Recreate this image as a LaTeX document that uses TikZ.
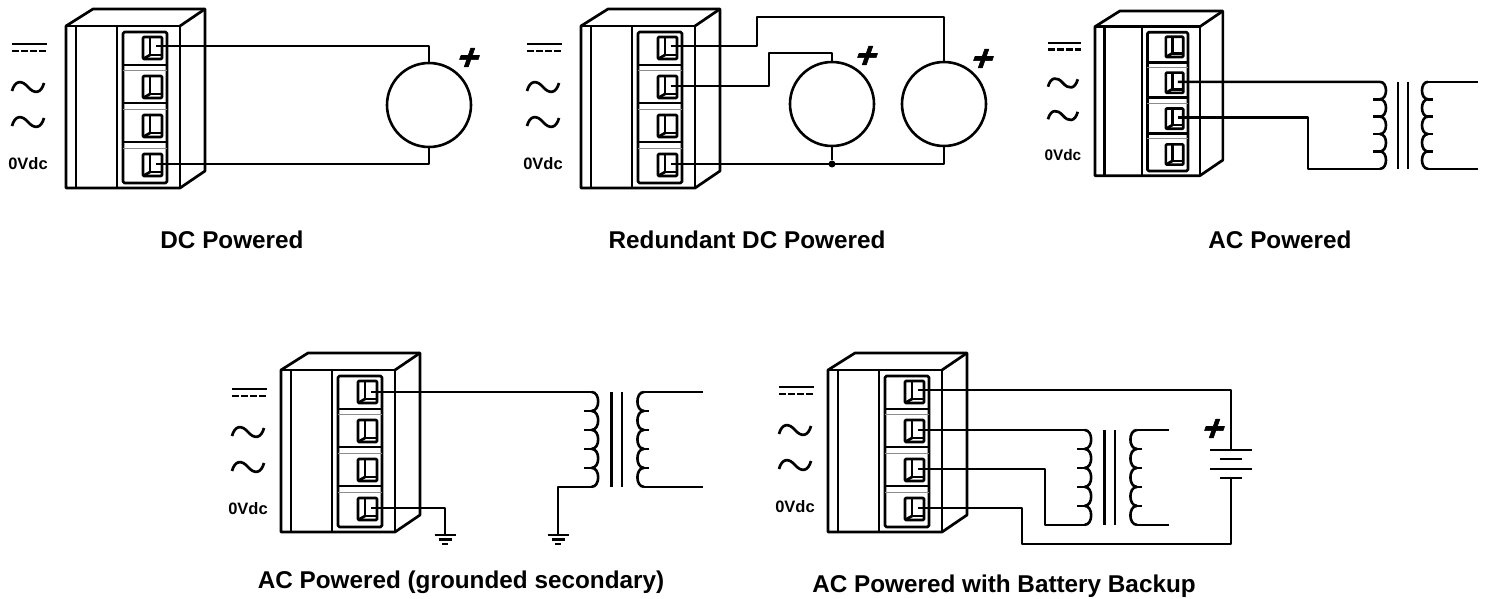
\documentclass[tikz,border=0pt]{standalone}
\usepackage{fontspec}
\setmainfont{Liberation Sans}
\newfontface\plusface[FakeBold=1.6]{Liberation Sans Bold}
\usepackage{xcolor}

\tikzset{
pics/termblock/.style={code={
  \draw[body] (0,17) -- (27,0) -- (139,0) -- (139,162) -- (114,179) -- (0,179) -- cycle;
  \draw[body] (0,17) -- (114,17) -- (114,179);
  \draw[body] (114,17) -- (139,0);
  \draw[body] (10,17) -- (10,179);
  \draw[body] (51,17) -- (51,179);
  \draw[body,rounded corners=1.5] (57,23) rectangle (101,174);
  \foreach \yy in {56,94,133} \draw[body] (57,\yy) -- (101,\yy);
  \foreach \yy in {61,100,139} \draw[gap] (57,\yy) -- (101,\yy);
  \foreach \r/\yy/\wy in {1/28/37,2/67/77,3/106/116,4/145/155} {
    \draw[body,rounded corners=1] (77,\yy) rectangle +(19,22);
    \draw[body] (84,\yy) -- +(0,18) -- +(12,18);
    \draw[body] (77,\yy+22) -- (84,\yy+18);
    \coordinate (-t\r) at (90,\wy);
  }
}},
pics/supplysyms/.style={code={
  \draw[sym] (0,0) -- (35,0);
  \draw[sym,dash pattern=on 7pt off 2pt] (0,7) -- (35,7);
  \foreach \yy in {43,78}
    \draw[sym] (0,\yy+4) .. controls (3,\yy-7) and (10,\yy-7) .. (16,\yy) .. controls (22,\yy+7) and (29,\yy+7) .. (32,\yy-4);
  \node[zerovolt,transform shape] (-vdc) at (16,120) {0Vdc};
}},
pics/transformer/.style={code={
  \coordinate (-pt) at (7,0);
  \coordinate (-pb) at (7,87);
  \foreach \k in {0,1,2,3,4} {
    \draw[wire] (7,\k*17.4) .. controls (15,\k*17.4) and (15,\k*17.4+17.4) .. (7,\k*17.4+17.4);
    \draw[wire] (55,\k*17.4) .. controls (47,\k*17.4) and (47,\k*17.4+17.4) .. (55,\k*17.4+17.4);
  }
  \foreach \k in {1,2,3,4} {
    \draw[wire] (0,\k*17.4) -- (7,\k*17.4);
    \draw[wire] (55,\k*17.4) -- (60,\k*17.4);
  }
  \draw[wire] (25,0) -- (25,87);
  \draw[wire] (35,0) -- (35,87);
  \draw[wire] (55,0) -- (#1,0);
  \draw[wire] (55,87) -- (#1,87);
}},
pics/earth/.style={code={
  \coordinate (-top) at (0,0);
  \draw[wire] (-10.5,0) -- (10.5,0);
  \draw[wire] (-6.5,4.5) -- (6.5,4.5);
  \draw[wire] (-3,9) -- (3,9);
}},
pics/battery/.style={code={
  \coordinate (-top) at (0,0);
  \coordinate (-bot) at (0,28);
  \draw[wire] (-21,0) -- (21,0);
  \draw[wire] (-11,9) -- (11,9);
  \draw[wire] (-21,19) -- (21,19);
  \draw[wire] (-11,28) -- (11,28);
}}
}

\begin{document}
\begin{tikzpicture}[x=1pt,y=-1pt,line join=round]
\tikzstyle{body} = [line width=2.7];
\tikzstyle{gap} = [line width=0.8,black!45];
\tikzstyle{sym} = [line width=2.7];
\tikzstyle{wire} = [line width=2.6];
\tikzstyle{supply} = [circle,draw,line width=2.6,minimum size=84,inner sep=0];
\tikzstyle{dot} = [circle,fill,inner sep=0,minimum size=7];
\tikzstyle{plussign} = [font=\fontsize{37}{37}\selectfont\plusface,inner sep=0,xslant=0.35,transform shape];
\tikzstyle{zerovolt} = [font=\fontsize{16.5}{17}\selectfont\bfseries,inner sep=0];
\tikzstyle{caption} = [font=\fontsize{24.3}{26}\selectfont\bfseries,inner sep=0];
\useasboundingbox (0,0) rectangle (1489,599);
% DC powered
\pic (b1) at (66,9) {termblock};
\pic (y1) at (12,44) {supplysyms};
\node [supply] (s1) at (429,105) {};
\node [plussign] (p1) at (469,59) {+};
\draw [wire] (b1-t1) -| (s1.north);
\draw [wire] (b1-t4) -| (s1.south);
\node [caption] (l1) at (232,240) {DC Powered};
% redundant DC
\pic (b2) at (581,9) {termblock};
\pic (y2) at (527,44) {supplysyms};
\node [supply] (s2) at (832,104) {};
\node [supply] (s3) at (944,104) {};
\node [plussign] (p2) at (867,57) {+};
\node [plussign] (p3) at (983,60) {+};
\coordinate (c1) at (757,17);
\coordinate (c2) at (769,53);
\draw [wire] (b2-t1) -| (c1) -| (s3.north);
\draw [wire] (b2-t2) -| (c2) -| (s2.north);
\draw [wire] (b2-t4) -| (s3.south);
\node [dot] (j1) at (s2.south |- b2-t4) {};
\draw [wire] (s2.south) -- (j1);
\node [caption] (l2) at (747,240) {Redundant DC Powered};
% AC
\pic [scale=0.92] (b3) at (1095,11) {termblock};
\pic [scale=0.93] (y3) at (1048,43) {supplysyms};
\pic (t3) at (1373,81.84) {transformer=105};
\draw [wire] (b3-t2) -- (t3-pt);
\coordinate (c3) at (1308,168);
\draw [wire] (b3-t3) -| (c3 |- t3-pb) -- (t3-pb);
\node [caption] (l3) at (1280,240) {AC Powered};
% AC, grounded secondary
\pic (b4) at (281,353) {termblock};
\pic (y4) at (232,389) {supplysyms};
\pic [scale=1.09] (t4) at (584,392) {transformer=109};
\pic (g1) at (445,535) {earth};
\pic (g2) at (558,535) {earth};
\draw [wire] ([yshift=-2pt]b4-t1) -- (t4-pt);
\draw [wire] (b4-t4) -| (g1-top);
\draw [wire] (t4-pb) -| (g2-top);
\node [caption] (l4) at (461,582) {AC Powered (grounded secondary)};
% AC with battery
\pic (b5) at (828,353) {termblock};
\pic (y5) at (779,387) {supplysyms};
\pic [scale=1.09] (t5) at (1077,430) {transformer=84};
\pic (bat) at (1231,450) {battery};
\node [plussign] (p4) at (1214,430) {+};
\coordinate (c4) at (1045,525);
\coordinate (c5) at (1022,544);
\draw [wire] (b5-t1) -| (bat-top);
\draw [wire] (b5-t2) -- (t5-pt);
\draw [wire] (b5-t3) -| (c4 |- t5-pb) -- (t5-pb);
\draw [wire] (b5-t4) -| (c5) -| (bat-bot);
\node [caption] (l5) at (1004,586) {AC Powered with Battery Backup};
\end{tikzpicture}
\end{document}
